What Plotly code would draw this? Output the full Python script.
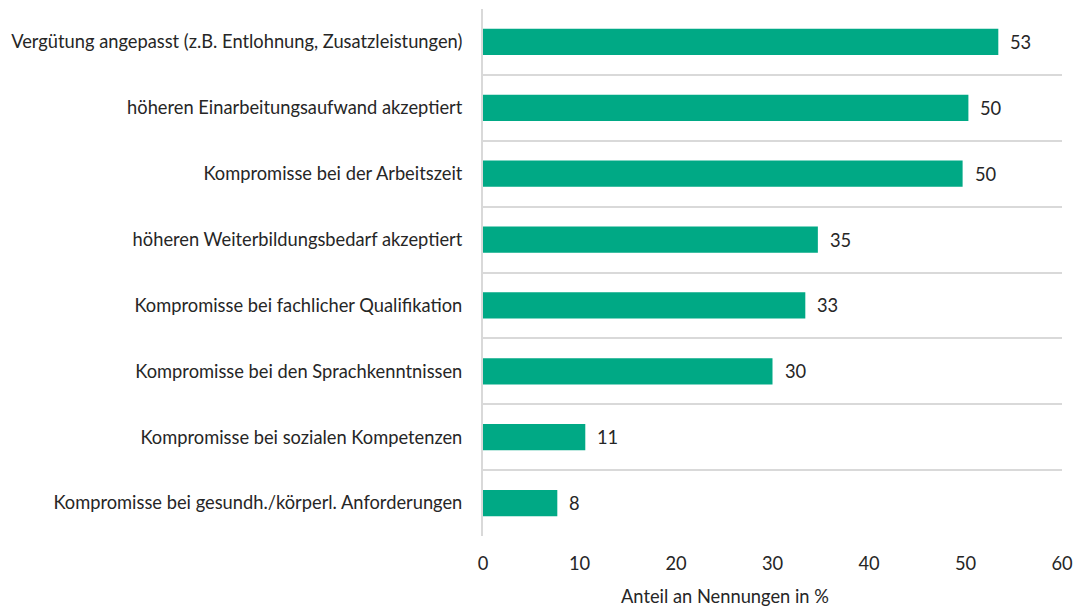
import plotly.graph_objects as go

categories = [
    "Vergütung angepasst (z.B. Entlohnung, Zusatzleistungen)",
    "höheren Einarbeitungsaufwand akzeptiert",
    "Kompromisse bei der Arbeitszeit",
    "höheren Weiterbildungsbedarf akzeptiert",
    "Kompromisse bei fachlicher Qualifikation",
    "Kompromisse bei den Sprachkenntnissen",
    "Kompromisse bei sozialen Kompetenzen",
    "Kompromisse bei gesundh./körperl. Anforderungen",
]
values = [53.4, 50.3, 49.7, 34.7, 33.4, 30.0, 10.6, 7.7]
x_ticks = [0, 10, 20, 30, 40, 50, 60]
x_title = "Anteil an Nennungen in %"

FONT = "Lato"
FS = 18.3
TXT = "#262626"
GREEN = "#00A985"
GRID = "#D9D9D9"

idx = list(range(len(categories)))

fig = go.Figure(
    go.Bar(
        x=values,
        y=idx,
        orientation="h",
        marker=dict(color=GREEN, line=dict(width=0)),
        width=0.4,
        hoverinfo="skip",
    )
)

for i, v in zip(idx, values):
    fig.add_annotation(
        x=v, y=i, text=f"{v:.0f}", showarrow=False,
        xanchor="left", yanchor="middle", xshift=10,
        font=dict(family=FONT, size=FS, color=TXT),
    )

# axis title (offset left of the plot centre, as in the reference)
fig.add_annotation(
    x=0.418, y=-0.113, xref="paper", yref="paper", text=x_title,
    showarrow=False, xanchor="center", yanchor="middle", borderpad=0,
    font=dict(family=FONT, size=FS, color=TXT),
)

fig.update_layout(
    width=1076, height=610,
    margin=dict(l=483, r=14, t=9, b=74),
    paper_bgcolor="white", plot_bgcolor="white",
    showlegend=False,
    font=dict(family=FONT, size=FS, color=TXT),
    xaxis=dict(
        range=[0, 60], tickvals=x_ticks, showgrid=False, zeroline=False,
        showline=False, ticks="", tickfont=dict(size=FS, color=TXT),
        automargin=False, ticklabelstandoff=15,
    ),
    yaxis=dict(
        range=[len(categories) - 0.5, -0.5],
        tickvals=idx, ticktext=categories, showgrid=False, zeroline=False,
        showline=True, linecolor=GRID, linewidth=2, ticks="",
        automargin=False,
        ticklabelstandoff=15, tickfont=dict(size=FS, color=TXT),
        minor=dict(tick0=0.5, dtick=1, showgrid=True, gridcolor=GRID, gridwidth=2, ticks=""),
    ),
)

fig.write_html(
    "out.html",
    config={"displayModeBar": False, "staticPlot": True},
    post_script="document.body.style.margin='0';document.body.style.overflow='hidden';",
)
